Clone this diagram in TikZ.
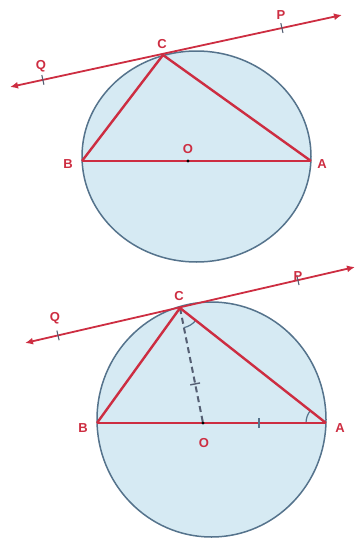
\documentclass[tikz,border=0pt]{standalone}
\usepackage{fontspec}
\setmainfont{Liberation Sans}
\usetikzlibrary{calc,arrows.meta}
\definecolor{geored}{RGB}{205,45,65}
\definecolor{circfill}{RGB}{214,234,243}
\definecolor{circline}{RGB}{85,115,140}
\definecolor{markgray}{RGB}{85,95,115}
\begin{document}
\begin{tikzpicture}[x=1pt,y=-1pt,
  disc/.style={fill=circfill,draw=circline,line width=1.5pt},
  redline/.style={draw=geored,line width=2.4pt},
  tangentline/.style={draw=geored,line width=1.8pt,{Latex[length=8pt,width=7pt]}-{Latex[length=8pt,width=7pt]}},
  tickmark/.style={draw=markgray,line width=1.1pt},
  lbl/.style={text=geored,font=\bfseries\fontsize{13}{13}\selectfont,inner sep=0pt},
  dashline/.style={draw=markgray,line width=2pt,dash pattern=on 6pt off 4pt},
  anglearc/.style={draw=circline,line width=1.2pt}]
\useasboundingbox (0,0) rectangle (358,541);
% ---------- top figure ----------
\coordinate (M1) at (196.5,156.5);
\coordinate (B1) at (82,161);
\coordinate (A1) at (311,161);
\coordinate (C1) at (163,55);
\coordinate (O1) at (188,161);
\coordinate (L1) at (10,87);
\coordinate (R1) at (342,15);
\fill[disc] (M1) ellipse [x radius=114.5pt, y radius=105.5pt];
\draw[redline] (B1) -- (A1);
\draw[redline,line join=round] (B1) -- (C1) -- (A1);
\fill[black] (O1) circle (1.6pt);
\draw[tangentline] (L1) -- (R1);
\coordinate (Q1) at ($(L1)!0.099!(R1)$);
\coordinate (P1) at ($(L1)!0.819!(R1)$);
\draw[tickmark] ($(Q1)!5pt!90:(R1)$) -- ($(Q1)!5pt!-90:(R1)$);
\draw[tickmark] ($(P1)!5pt!90:(R1)$) -- ($(P1)!5pt!-90:(R1)$);
\node[lbl] (lQ1) at (41,66) {Q};
\node[lbl] (lP1) at (281,15) {P};
\node[lbl] (lC1) at (162,44) {C};
\node[lbl] (lB1) at (68,164) {B};
\node[lbl] (lA1) at (322,164) {A};
\node[lbl] (lO1) at (188,149) {O};
% ---------- bottom figure ----------
\coordinate (M2) at (211.5,419.5);
\coordinate (B2) at (97,423);
\coordinate (A2) at (326,423);
\coordinate (C2) at (180,308);
\coordinate (O2) at (203,423);
\coordinate (L2) at (25,343);
\coordinate (R2) at (355,267);
\fill[disc] (M2) ellipse [x radius=114.5pt, y radius=117.5pt];
\draw[dashline] (C2) -- (O2);
\coordinate (K2) at ($(C2)!0.66!(O2)$);
\draw[tickmark,line width=1.4pt] ($(K2)!5pt!90:(O2)$) -- ($(K2)!5pt!-90:(O2)$);
\draw[anglearc] ($(C2)+(-79:20pt)$) arc[start angle=-79,end angle=-38,radius=20pt];
\draw[anglearc] ($(A2)+(142:20pt)$) arc[start angle=142,end angle=180,radius=20pt];
\draw[redline] (B2) -- (A2);
\draw[redline,line join=round] (B2) -- (C2) -- (A2);
\fill[black] (O2) circle (1.6pt);
\coordinate (T2) at (259,423);
\draw[tickmark,draw=circline] ($(T2)+(0,-5)$) -- ($(T2)+(0,5)$);
\draw[tangentline] (L2) -- (R2);
\coordinate (Q2) at ($(L2)!0.1!(R2)$);
\coordinate (P2) at ($(L2)!0.827!(R2)$);
\draw[tickmark] ($(Q2)!5pt!90:(R2)$) -- ($(Q2)!5pt!-90:(R2)$);
\draw[tickmark] ($(P2)!5pt!90:(R2)$) -- ($(P2)!5pt!-90:(R2)$);
\node[lbl] (lQ2) at (55,318) {Q};
\node[lbl] (lP2) at (298,276) {P};
\node[lbl] (lC2) at (179,296) {C};
\node[lbl] (lB2) at (83,428) {B};
\node[lbl] (lA2) at (340,428) {A};
\node[lbl] (lO2) at (204,443) {O};
\end{tikzpicture}
\end{document}
